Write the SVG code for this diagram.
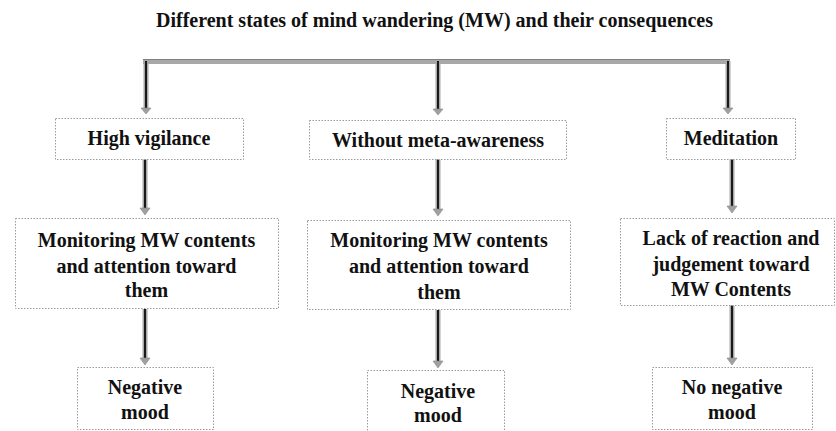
<svg xmlns="http://www.w3.org/2000/svg" width="836" height="431" viewBox="0 0 836 431">
<style>
text{font-family:"Liberation Serif","Times New Roman",serif;font-weight:bold;font-size:20px;fill:#111;text-anchor:middle}
.box{fill:#fff;stroke:#9a9a9a;stroke-width:1;stroke-dasharray:1.5 1.5}
.halo{stroke:#a8a8a8;stroke-width:5;fill:none}
.core{stroke:#1a1a1a;stroke-width:2;fill:none}
.head{fill:#a0a0a0;stroke:#888;stroke-width:0.6}
</style>
<rect width="836" height="431" fill="#fff"/>
<text x="434.5" y="27">Different states of mind wandering (MW) and their consequences</text>
<g id="connectors">
  <path class="halo" d="M143 61.5H730" stroke-width="4"/>
  <path d="M143 59.5H730" stroke="#777" stroke-width="0.8"/>
  <path class="halo" d="M146 61V109M438 61V110M728 61V109"/>
  <path class="core" d="M146 61V109M438 61V110M728 61V109"/>
  <polygon class="head" points="141,108 151,108 146,114"/>
  <polygon class="head" points="433,109 443,109 438,115"/>
  <polygon class="head" points="723,108 733,108 728,114"/>
  <path class="halo" d="M145 159V209M438 159V210M732 159V207"/>
  <path class="core" d="M145 159V209M438 159V210M732 159V207"/>
  <polygon class="head" points="140,208 150,208 145,215"/>
  <polygon class="head" points="433,209 443,209 438,216"/>
  <polygon class="head" points="727,206 737,206 732,213"/>
  <path class="halo" d="M145 309V359M438 310V362M732 305V359"/>
  <path class="core" d="M145 309V359M438 310V362M732 305V359"/>
  <polygon class="head" points="140,358 150,358 145,365"/>
  <polygon class="head" points="433,361 443,361 438,368"/>
  <polygon class="head" points="727,358 737,358 732,365"/>
</g>
<g id="high-vigilance">
  <rect class="box" x="55.5" y="118.5" width="188" height="41"/>
  <text x="149" y="145">High vigilance</text>
</g>
<g id="without-meta-awareness">
  <rect class="box" x="309.5" y="120.5" width="257" height="39"/>
  <text x="438" y="147">Without meta-awareness</text>
</g>
<g id="meditation">
  <rect class="box" x="666.5" y="118.5" width="129" height="41"/>
  <text x="731" y="145">Meditation</text>
</g>
<g id="monitoring-left">
  <rect class="box" x="15.5" y="218.5" width="263" height="90"/>
  <text x="146.5" y="247">Monitoring MW contents</text>
  <text x="146.5" y="273">and attention toward</text>
  <text x="146.5" y="297">them</text>
</g>
<g id="monitoring-middle">
  <rect class="box" x="307.5" y="220.5" width="263" height="89"/>
  <text x="439" y="247">Monitoring MW contents</text>
  <text x="439" y="273">and attention toward</text>
  <text x="439" y="299">them</text>
</g>
<g id="lack-of-reaction">
  <rect class="box" x="620.5" y="218.5" width="214" height="87"/>
  <text x="731" y="245">Lack of reaction and</text>
  <text x="731" y="271">judgement toward</text>
  <text x="731" y="296">MW Contents</text>
</g>
<g id="negative-mood-left">
  <rect class="box" x="77.5" y="367.5" width="136" height="62"/>
  <text x="145" y="394">Negative</text>
  <text x="145" y="419">mood</text>
</g>
<g id="negative-mood-middle">
  <rect class="box" x="367.5" y="370.5" width="137" height="64"/>
  <text x="438" y="398">Negative</text>
  <text x="438" y="422">mood</text>
</g>
<g id="no-negative-mood">
  <rect class="box" x="652.5" y="367.5" width="160" height="62"/>
  <text x="732" y="394">No negative</text>
  <text x="732" y="419">mood</text>
</g>
</svg>
